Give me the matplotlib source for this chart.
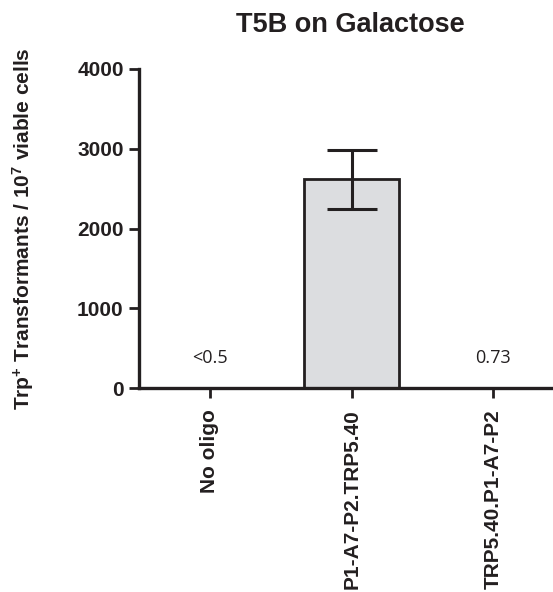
import matplotlib
matplotlib.use("Agg")
import matplotlib.pyplot as plt

categories = ["No oligo", "P1-A7-P2.TRP5.40", "TRP5.40.P1-A7-P2"]
values = [0.5, 2620, 0.73]
errors = [0, 370, 0]
value_labels = ["<0.5", "", "0.73"]
yticks = [0, 1000, 2000, 3000, 4000]

plt.rcParams['font.family'] = ['Liberation Sans', 'DejaVu Sans']
plt.rcParams['mathtext.fontset'] = 'custom'
plt.rcParams['mathtext.bf'] = 'Liberation Sans:bold'
plt.rcParams['mathtext.rm'] = 'Liberation Sans:bold'
plt.rcParams['mathtext.default'] = 'bf'

ink = '#231f20'
fig = plt.figure(figsize=(5.53, 5.92), dpi=100)
ax = fig.add_axes([139/553, 1-388/592, 1-139/553, (388-69)/592])

x = list(range(len(categories)))
ax.bar(x, values, width=0.67, color='#dcdde0', edgecolor=ink, linewidth=2.0, zorder=2)
for xi, v, e in zip(x, values, errors):
    if e > 0:
        ax.errorbar([xi], [v], yerr=[e], fmt='none', ecolor=ink, elinewidth=2.2,
                    capsize=18, capthick=2.2, zorder=3)
for xi, lab in zip(x, value_labels):
    if lab:
        ax.text(xi, 380, lab, ha='center', va='center', fontsize=13,
                family='Open Sans', color=ink)

ax.set_xlim(-0.5, 2.42)
ax.set_ylim(0, 4000)
ax.set_yticks(yticks)
ax.set_yticklabels([str(t) for t in yticks], fontsize=15, fontweight='bold', color=ink)
ax.set_xticks(x)
ax.set_xticklabels(categories, rotation=90, fontsize=15, fontweight='bold', color=ink)
ax.tick_params(axis='both', direction='out', length=7, width=2.0, color=ink)
ax.tick_params(axis='x', pad=8)
ax.tick_params(axis='y', pad=4)
for s in ['top', 'right']:
    ax.spines[s].set_visible(False)
for s in ['left', 'bottom']:
    ax.spines[s].set_linewidth(2.4)
    ax.spines[s].set_color(ink)

ax.set_ylabel(r'Trp$^{+}$ Transformants / 10$^{7}$ viable cells', fontsize=15,
              fontweight='bold', color=ink)
ax.yaxis.set_label_coords((36 - 139) / (553 - 139), 0.5)

fig.text(350/553, 1-25/592, 'T5B on Galactose', ha='center', va='center',
         fontsize=19.5, fontweight='bold', color=ink)

fig.savefig('out.png', dpi=100)
